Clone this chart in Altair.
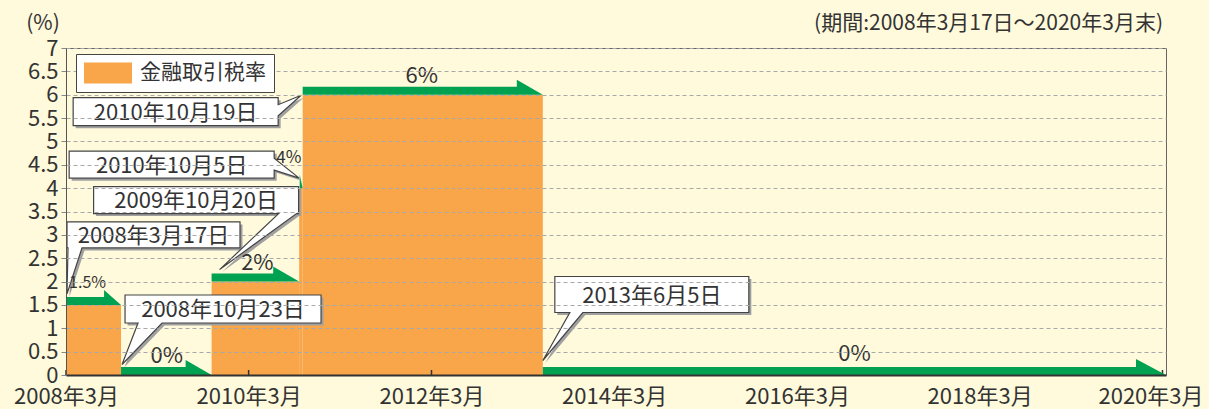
import altair as alt
import pandas as pd

# ---------------- data ----------------
series_name = "金融取引税率"
seg_start = ["2008/03/17", "2008/10/23", "2009/10/20", "2010/10/05", "2010/10/19", "2013/06/05"]
seg_end = ["2008/10/23", "2009/10/20", "2010/10/05", "2010/10/19", "2013/06/05", "2020/03/31"]
rates = [1.5, 0.0, 2.0, 4.0, 6.0, 0.0]
rate_labels = ["1.5%", "0%", "2%", "4%", "6%", "0%"]
callout_texts = ["2008年3月17日", "2008年10月23日", "2009年10月20日",
                 "2010年10月5日", "2010年10月19日", "2013年6月5日"]
x_tick_dates = ["2008/03/17", "2010/03/17", "2012/03/17", "2014/03/17",
                "2016/03/17", "2018/03/17", "2020/03/17"]
x_tick_labels = ["2008年3月", "2010年3月", "2012年3月", "2014年3月",
                 "2016年3月", "2018年3月", "2020年3月"]
y_ticks = [0, 0.5, 1, 1.5, 2, 2.5, 3, 3.5, 4, 4.5, 5, 5.5, 6, 6.5, 7]
x_domain = ["2008/03/17", "2020/03/31"]
unit_label = "(%)"
period_label = "(期間:2008年3月17日～2020年3月末)"

# ---------------- styles ----------------
FONT = "Noto Sans CJK JP"
ORANGE = "#F9A64A"
GREEN = "#00A150"
BG = "#FFFADC"
TXT = "#333333"
W, H = 1100, 327

head_w = [17, 26, 26, 3, 26, 30]
head_h = [15, 15, 15, 14, 15, 16]
bar_h = 8
label_off = [(-6, -21.5), (0.5, -19.5), (2, -19), (-12, -30), (-1, -19), (0, -21)]
label_size = [16, 22, 22, 17, 22, 22]

# callout geometry in pixels relative to anchor (segment start, level)
callout_geom = [
    dict(box=(1, -83, 174, -57), side="bottom", base=(2, 16), tip=(1, -11)),
    dict(box=(4, -80, 200, -52), side="bottom", base=(17, 41), tip=(1, -10.5)),
    dict(box=(-118, -95, 87, -68), side="bottom", base=(67, 85), tip=(8, -12)),
    dict(box=(-230, -37, -25, -10), side="right", base=(-30, -18), tip=(0, -10)),
    dict(box=(-229.5, 3, -24.5, 31), side="right", base=(10, 21), tip=(-1.5, 0.5)),
    dict(box=(12, -98.5, 206, -62.5), side="bottom", base=(27, 40), tip=(0, -14.5)),
]


def dt(s):
    y, m, d = map(int, s.split("/"))
    return alt.DateTime(year=y, month=m, date=d)


def callout_path(g, off=0.0):
    x1, y1, x2, y2 = [v + off for v in g["box"]]
    b1, b2 = [v + off for v in g["base"]]
    tx, ty = [v + off for v in g["tip"]]
    if g["side"] == "bottom":
        return (f"M {x1} {y1} L {x2} {y1} L {x2} {y2} L {b2} {y2} "
                f"L {tx} {ty} L {b1} {y2} L {x1} {y2} Z")
    return (f"M {x1} {y1} L {x2} {y1} L {x2} {b1} L {tx} {ty} "
            f"L {x2} {b2} L {x2} {y2} L {x1} {y2} Z")


starts = pd.to_datetime(seg_start, format="%Y/%m/%d")
ends = pd.to_datetime(seg_end, format="%Y/%m/%d")
mids = starts + (ends - starts) / 2

seg = pd.DataFrame({
    "start": seg_start,
    "end": seg_end,
    "mid": [m.strftime("%Y/%m/%d %H:%M:%S") for m in mids],
    "rate": rates,
    "zero": 0.0,
    "series": series_name,
    "label": rate_labels,
    "callout": callout_texts,
})

xscale = alt.Scale(domain=[dt(x_domain[0]), dt(x_domain[1])], nice=False)
yscale = alt.Scale(domain=[0, 7], nice=False)

years = [int(d.split("/")[0]) for d in x_tick_dates]
label_expr = ("[" + ",".join(f"'{l}'" for l in x_tick_labels) + "][indexof(["
              + ",".join(str(y) for y in years) + "], year(datum.value))]")

xaxis = alt.Axis(
    values=[dt(d) for d in x_tick_dates],
    labelExpr=label_expr,
    labelFont=FONT, labelFontSize=22, labelColor=TXT,
    labelPadding=11, labelOverlap=False, labelFlush=False, labelBound=False,
    labelOffset={"condition": {"test": f"year(datum.value) == {years[-1]}", "value": -12}, "value": 0},
    ticks=False, grid=False, domainColor="#333333", domainWidth=2, zindex=1,
)
yaxis = alt.Axis(
    values=y_ticks, format=".1~f",
    labelFont=FONT, labelFontSize=22, labelColor=TXT, labelPadding=3,
    tickSize=5, tickColor="#888888", domainColor="#555555",
    grid=True, gridDash=[4, 3], gridColor="#a8a8a8", zindex=1,
)


def X(field):
    return alt.X(field, type="temporal", scale=xscale, axis=xaxis, title=None)


def Y(field):
    return alt.Y(field, type="quantitative", scale=yscale, axis=yaxis, title=None)


rect_sym = "M -1 -0.4375 L 1 -0.4375 L 1 0.4375 L -1 0.4375 Z"
legend = alt.Legend(
    title=None, orient="none", legendX=10, legendY=6,
    symbolType=rect_sym, symbolSize=2304, symbolStrokeWidth=0, symbolOpacity=1,
    labelFont=FONT, labelFontSize=21, labelColor=TXT, labelOffset=8,
    padding=8, strokeColor="#444444", fillColor="white", clipHeight=22, zindex=1,
)

layers = []

orange = alt.Chart(seg).mark_rect(opacity=1).encode(
    x=X("start"),
    x2="end:T",
    y=Y("rate"),
    y2="zero:Q",
    color=alt.Color("series:N", scale=alt.Scale(domain=[series_name], range=[ORANGE]), legend=legend),
)
layers.append(orange)

ticks_df = pd.DataFrame({"d": x_tick_dates, "zero": 0.0})
tick_rules = alt.Chart(ticks_df).mark_rule(color="#333333", strokeWidth=1.5, y2Offset=-5).encode(
    x=X("d"), y=Y("zero"), y2="zero:Q",
)
layers.append(tick_rules)

for i in range(len(rates)):
    row = seg.iloc[[i]]
    w, h = head_w[i], head_h[i]
    if w > 5:
        bar = alt.Chart(row).mark_rect(color=GREEN, opacity=1, x2Offset=-(w - 1), y2Offset=-bar_h).encode(
            x=X("start"), x2="end:T", y=Y("rate"), y2="rate:Q",
        )
        layers.append(bar)
    head = alt.Chart(row).mark_point(
        shape=f"M 0 0 L {-w} 0 L {-w} {-h} Z", size=4, filled=True,
        color=GREEN, opacity=1, strokeWidth=0,
    ).encode(x=X("end"), y=Y("rate"))
    layers.append(head)

for i, g in enumerate(callout_geom):
    row = seg.iloc[[i]]
    shadow = alt.Chart(row).mark_point(
        shape=callout_path(g, 2.5), size=4, filled=True, fill="#a0a0a0",
        strokeWidth=0, opacity=1,
    ).encode(x=X("start"), y=Y("rate"))
    box = alt.Chart(row).mark_point(
        shape=callout_path(g), size=4, filled=True, fill="white",
        stroke="#444444", strokeWidth=1.2, opacity=1,
    ).encode(x=X("start"), y=Y("rate"))
    x1, y1, x2, y2 = g["box"]
    txt = alt.Chart(row).mark_text(
        dx=(x1 + x2) / 2, dy=(y1 + y2) / 2 + 1, font=FONT, fontSize=22, color=TXT,
        align="center", baseline="middle",
    ).encode(x=X("start"), y=Y("rate"), text="callout:N")
    layers += [shadow, box, txt]

for i in range(len(rates)):
    row = seg.iloc[[i]]
    dx, dy = label_off[i]
    lab = alt.Chart(row).mark_text(
        dx=dx, dy=dy, font=FONT, fontSize=label_size[i], color=TXT,
        align="center", baseline="middle",
    ).encode(x=X("mid"), y=Y("rate"), text="label:N")
    layers.append(lab)

left_title = alt.Chart(pd.DataFrame({"t": [unit_label]})).mark_text(
    font=FONT, fontSize=21, color=TXT, align="center", baseline="middle",
).encode(x=alt.value(-23), y=alt.value(-24), text="t:N")
right_title = alt.Chart(pd.DataFrame({"t": [period_label]})).mark_text(
    font=FONT, fontSize=21, color=TXT, align="right", baseline="middle",
).encode(x=alt.value(W - 3), y=alt.value(-24), text="t:N")
layers += [left_title, right_title]

chart = alt.layer(*layers).properties(
    width=W, height=H,
    padding={"left": 66, "top": 48, "right": 43, "bottom": 34},
    autosize=alt.AutoSizeParams(type="none"),
    background=BG,
).configure_view(stroke="#666666", strokeWidth=1)

chart.save("out.html", embed_options={"renderer": "svg", "actions": False})
